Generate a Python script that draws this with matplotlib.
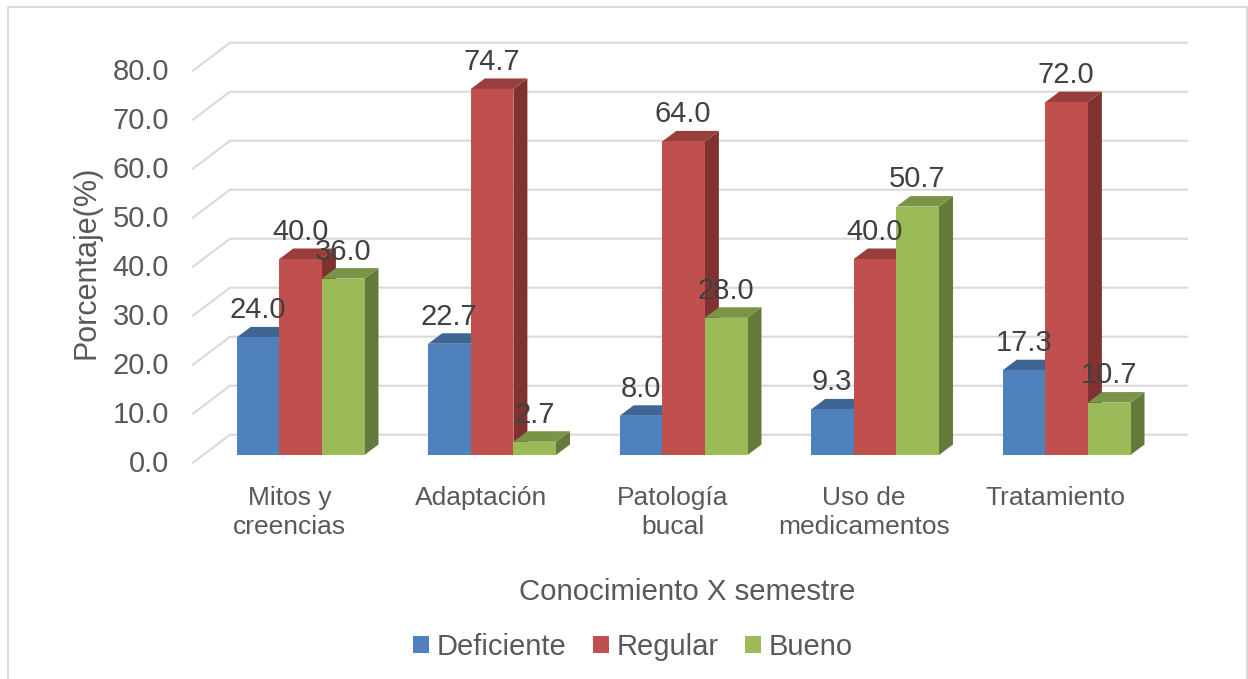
import matplotlib
matplotlib.use("Agg")
import matplotlib.pyplot as plt
from matplotlib.lines import Line2D
from matplotlib.patches import Patch
from matplotlib.transforms import ScaledTranslation

plt.rcParams['font.family'] = ['Liberation Sans', 'DejaVu Sans']

categories = ["Mitos y\ncreencias", "Adaptación", "Patología\nbucal", "Uso de\nmedicamentos", "Tratamiento"]
deficiente = [24.0, 22.7, 8.0, 9.3, 17.3]
regular = [40.0, 74.7, 64.0, 40.0, 72.0]
bueno = [36.0, 2.7, 28.0, 50.7, 10.7]
series_names = ["Deficiente", "Regular", "Bueno"]
y_ticks = [0, 10, 20, 30, 40, 50, 60, 70, 80]

front_colors = ["#4F81BD", "#C0504D", "#9BBB59"]
top_colors = ["#3E6594", "#983F3D", "#7A9446"]
side_colors = ["#2F4C70", "#7F3230", "#647A3A"]

W, H = 1248, 679
# pixel layout of the plot
left_px, right_px = 172, 1187
base_px = 455
px_per_unit = 4.9
group_px = 191.5
first_center_px = 300.6

fig = plt.figure(figsize=(W / 100, H / 100), dpi=100)
top_px = base_px - 90 * px_per_unit
ax = fig.add_axes([left_px / W, 1 - base_px / H, (right_px - left_px) / W, (base_px - top_px) / H])
ax.set_ylim(0, 90)
ax.set_xlim((left_px - first_center_px) / group_px, (right_px - first_center_px) / group_px)
for s in ax.spines.values():
    s.set_visible(False)

# depth of the fake 3d, in data units
bar_w = 42.6 / group_px
dx = 14 / group_px
dy = 10.5 / px_per_unit

# gridlines run from the front left corner to the back wall
grid_x0 = ax.get_xlim()[0] + 21 / group_px
grid_x1 = ax.get_xlim()[0] + 58 / group_px
grid_x2 = ax.get_xlim()[1]
for v in y_ticks:
    ax.plot([grid_x0, grid_x1, grid_x2], [v - 7.7 / px_per_unit, v + 20.3 / px_per_unit, v + 20.3 / px_per_unit],
            color="#D9D9D9", lw=1.5, clip_on=False, zorder=1, solid_joinstyle="miter")

# bars go left to right so every one covers the side of the previous one
all_series = [deficiente, regular, bueno]
for i in range(len(categories)):
    for j, values in enumerate(all_series):
        v = values[i]
        x = i + (j - 1) * bar_w
        x0 = x - bar_w / 2
        x1 = x + bar_w / 2
        ax.fill([x1, x1 + dx, x1 + dx, x1], [0, dy, v + dy, v], color=side_colors[j], lw=0, zorder=2, clip_on=False)
        ax.fill([x0, x0 + dx, x1 + dx, x1], [v, v + dy, v + dy, v], color=top_colors[j], lw=0, zorder=2, clip_on=False)
        ax.bar(x, v, width=bar_w, color=front_colors[j], lw=0, zorder=2)

for i in range(len(categories)):
    for j, values in enumerate(all_series):
        x = i + (j - 1) * bar_w
        ax.annotate("%.1f" % values[i], (x, values[i]), xytext=(-0.3, 19.5), textcoords="offset points",
                    ha="center", va="center", fontsize=21, color="#404040", zorder=5)

ax.set_yticks(y_ticks)
ax.set_yticklabels(["%.1f" % v for v in y_ticks])
ax.set_xticks(range(len(categories)))
ax.set_xticklabels(categories)
ax.tick_params(axis="y", length=0, pad=2, labelsize=21, labelcolor="#595959")
ax.tick_params(axis="x", length=0, pad=22, labelsize=19, labelcolor="#595959")

# labels sit a bit off the bars
y_shift = ScaledTranslation(0, -6 / 100, fig.dpi_scale_trans)
for label in ax.get_yticklabels():
    label.set_transform(label.get_transform() + y_shift)
x_shift = ScaledTranslation(-11 / 100, 0, fig.dpi_scale_trans)
for label in ax.get_xticklabels():
    label.set_transform(label.get_transform() + x_shift)
    label.set_linespacing(1.28)

ax.set_xlabel("Conocimiento X semestre", fontsize=21.2, color="#595959")
ax.xaxis.set_label_coords(687 / W, 1 - 592 / H, transform=fig.transFigure)
ax.xaxis.label.set_va("center")
ax.set_ylabel("Porcentaje(%)", fontsize=22, color="#595959")
ax.yaxis.set_label_coords(86 / W, 1 - 262 / H, transform=fig.transFigure)
ax.yaxis.label.set_va("center")

handles = [Patch(color=c, lw=0) for c in front_colors]
fig.legend(handles, series_names, ncol=3, loc="center", bbox_to_anchor=(633 / W, 1 - 647 / H), frameon=False,
           fontsize=21, labelcolor="#595959", handlelength=0.55, handleheight=0.55,
           handletextpad=0.27, columnspacing=0.9)

# outer frame, the bottom edge is cropped away
fig.add_artist(Line2D([7.5 / W, 7.5 / W, 1247 / W, 1247 / W], [0, 1 - 6.5 / H, 1 - 6.5 / H, 0],
                      transform=fig.transFigure, color="#D9D9D9", lw=1.4))

plt.savefig("out.png", dpi=100)
